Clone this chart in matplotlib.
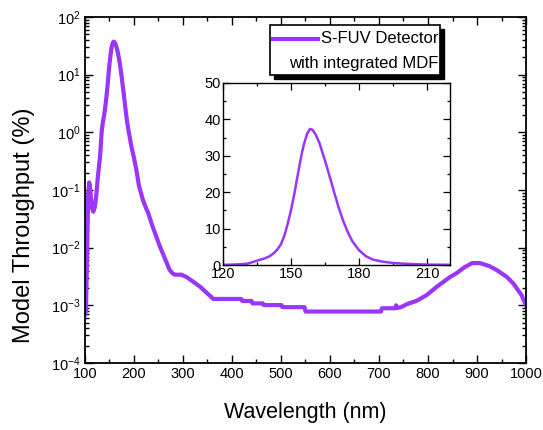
import matplotlib
matplotlib.use("Agg")
import matplotlib.pyplot as plt
import numpy as np
from matplotlib.ticker import LogLocator, NullFormatter, MultipleLocator
from matplotlib.patches import Rectangle
from matplotlib.lines import Line2D

plt.rcParams['font.family'] = ['Liberation Sans', 'DejaVu Sans']
plt.rcParams['mathtext.default'] = 'regular'

# Modelled S-FUV detector throughput (%) versus wavelength (nm)
wavelength = [100, 102, 104, 105.5, 107, 108.5, 110, 112, 114, 117, 120, 123, 126,
              129, 131, 134, 136, 138.5, 140.5, 142.5, 144, 145.5, 147, 148.5, 150,
              151.5, 153, 154.5, 155.5, 157, 158.3, 159.5, 161, 162.5, 164, 165.5,
              167, 169, 171, 173, 175, 177, 180, 183, 186, 190, 195, 200, 205, 210,
              218, 224, 229, 236, 245, 253, 260, 267, 272, 277, 283, 290, 297, 307,
              320, 335, 350, 362, 419, 421, 440, 442, 463, 465, 501, 503, 548, 550,
              704, 706, 733, 735, 737, 745, 756, 777, 797, 821, 845, 858, 875, 890,
              906, 925, 940, 961, 974, 991, 1000]
throughput = [0.00070, 0.00080, 0.006, 0.03, 0.09, 0.135, 0.12, 0.075, 0.05, 0.042,
              0.050, 0.080, 0.16, 0.28, 0.40, 1.0, 1.4, 1.85, 2.4, 3.3, 4.3, 5.7,
              8.0, 11.3, 15.2, 19.8, 25.0, 30.0, 32.8, 36.0, 37.4, 37.1, 35.6, 33.5,
              30.5, 27.5, 24.3, 19.9, 15.7, 12.0, 9.0, 6.5, 4.0, 2.4, 1.5, 0.95, 0.55,
              0.36, 0.22, 0.12, 0.068, 0.050, 0.040, 0.026, 0.016, 0.0104, 0.0075,
              0.0054, 0.0042, 0.0037, 0.0034, 0.0034, 0.0034, 0.0031, 0.0026, 0.0021,
              0.0016, 0.00129, 0.00129, 0.00119, 0.00119, 0.00108, 0.00108, 0.00101,
              0.00101, 0.00093, 0.00093, 0.00078, 0.00078, 0.00089, 0.00089, 0.00100,
              0.00090, 0.00093, 0.00104, 0.00120, 0.00150, 0.0022, 0.0031, 0.0036,
              0.0046, 0.0054, 0.0054, 0.0048, 0.0041, 0.0031, 0.0024, 0.0015, 0.0010]

x_ticks = [100, 200, 300, 400, 500, 600, 700, 800, 900, 1000]
inset_x_ticks = [120, 150, 180, 210]
inset_y_ticks = [0, 10, 20, 30, 40, 50]
legend_lines = ["S-FUV Detector", "with integrated MDF"]

color = '#9A35FA'

fig = plt.figure(figsize=(5.43, 4.30), dpi=100)
ax = fig.add_axes([0.1565, 0.1558, 0.8122, 0.8047])

ax.plot(wavelength, throughput, color=color, lw=3.0, solid_joinstyle='round')
ax.set_yscale('log')
ax.set_xlim(100, 1000)
ax.set_ylim(1e-4, 1e2)
ax.set_xticks(x_ticks)
ax.xaxis.set_minor_locator(MultipleLocator(50))
ax.yaxis.set_major_locator(LogLocator(base=10, numticks=10))
ax.yaxis.set_minor_locator(LogLocator(base=10, subs=np.arange(2, 10), numticks=20))
ax.yaxis.set_minor_formatter(NullFormatter())
ax.tick_params(which='both', direction='in', top=True, right=True, width=1.0)
ax.tick_params(which='major', length=6, labelsize=10.5, pad=3)
ax.tick_params(which='minor', length=3)
for s in ax.spines.values():
    s.set_linewidth(1.3)
ax.set_xlabel('Wavelength (nm)', fontsize=15.5, labelpad=15)
ax.set_ylabel('Model Throughput (%)', fontsize=17, va='center')
ax.yaxis.set_label_coords(-0.138, 0.399)

# legend box with drop shadow
bx0, by0, bw, bh = 0.4195, 0.8324, 0.3855, 0.1445
ax.add_patch(Rectangle((bx0 + 0.010, by0 - 0.013), bw, bh, transform=ax.transAxes,
                       facecolor='black', edgecolor='black', zorder=5))
ax.add_patch(Rectangle((bx0, by0), bw, bh, transform=ax.transAxes,
                       facecolor='white', edgecolor='black', lw=1.2, zorder=6))
ax.add_line(Line2D([0.4263, 0.5283], [0.9364, 0.9364], transform=ax.transAxes,
                   color=color, lw=3.0, zorder=7))
ax.text(0.8005, 0.9364, legend_lines[0], transform=ax.transAxes, ha='right',
        va='center', fontsize=12, zorder=7)
ax.text(0.8005, 0.867, legend_lines[1], transform=ax.transAxes, ha='right',
        va='center', fontsize=12, zorder=7)

# linear-scale inset around the FUV peak
ins = fig.add_axes([0.4107, 0.3837, 0.4180, 0.4233])
ins.plot(wavelength, throughput, color=color, lw=1.8, solid_joinstyle='round')
ins.set_xlim(120, 220)
ins.set_ylim(0, 50)
ins.set_xticks(inset_x_ticks)
ins.set_yticks(inset_y_ticks)
ins.xaxis.set_minor_locator(MultipleLocator(15))
ins.yaxis.set_minor_locator(MultipleLocator(5))
ins.tick_params(which='both', direction='in', top=True, right=True, width=0.9)
ins.tick_params(which='major', length=5, labelsize=10.5, pad=1.5)
ins.tick_params(which='minor', length=2.5)
for s in ins.spines.values():
    s.set_linewidth(1.0)

fig.savefig('out.png', dpi=100)
